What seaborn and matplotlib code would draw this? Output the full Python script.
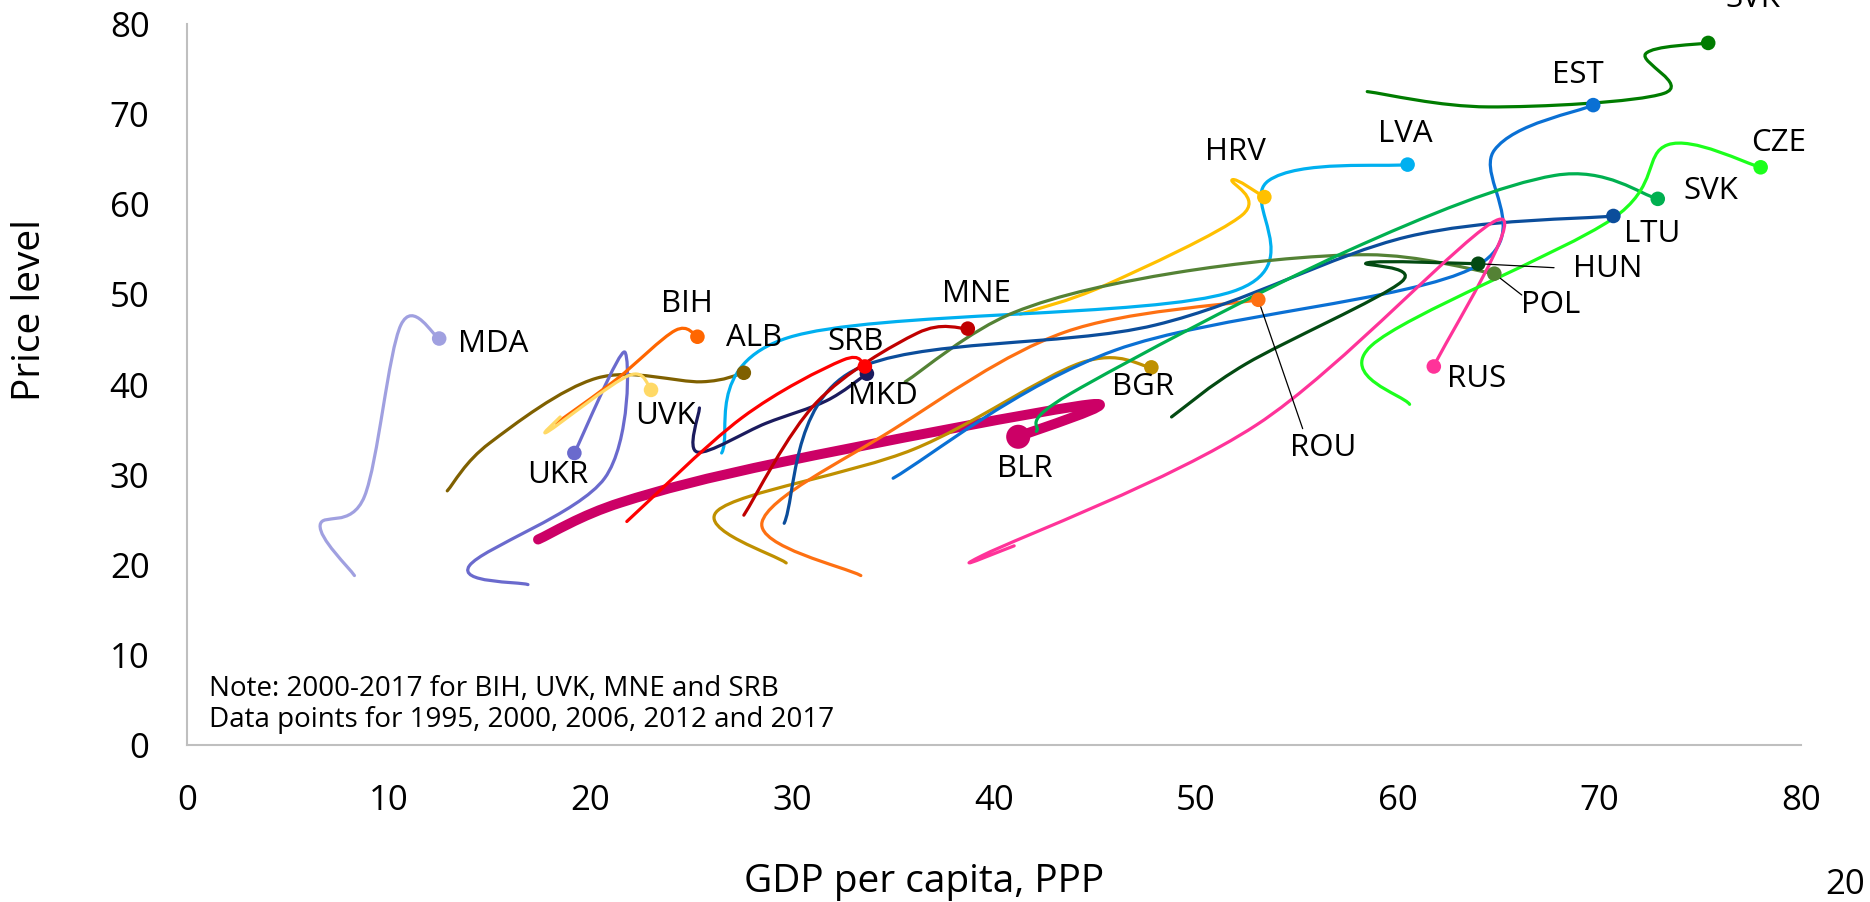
import matplotlib
matplotlib.use("Agg")
import matplotlib.pyplot as plt
from matplotlib.path import Path
from matplotlib.patches import PathPatch
import numpy as np
import pandas as pd
import seaborn as sns

# GDP per capita (PPP) and price level; points for 1995, 2000, 2006, 2012, 2017
# (BIH, UVK, MNE, SRB start in 2000)
MDA_GDP = [8.3, 6.6, 8.8, 10.6, 12.5]
MDA_PRICE = [18.8, 24.4, 27.6, 46.6, 45.1]
UKR_GDP = [16.9, 14.0, 20.7, 21.7, 19.2]
UKR_PRICE = [17.8, 19.9, 29.6, 43.6, 32.4]
BIH_GDP = [18.3, 21.3, 24.2, 25.3]
BIH_PRICE = [35.7, 40.6, 46.0, 45.3]
UVK_GDP = [18.5, 17.9, 21.9, 23.0]
UVK_PRICE = [36.4, 34.8, 41.0, 39.4]
ALB_GDP = [12.9, 15.0, 20.3, 25.5, 27.6]
ALB_PRICE = [28.2, 33.5, 40.7, 40.3, 41.3]
MKD_GDP = [25.4, 25.3, 28.7, 31.7, 33.7]
MKD_PRICE = [37.4, 32.5, 35.7, 38.2, 41.2]
SRB_GDP = [21.8, 27.5, 32.5, 33.6]
SRB_PRICE = [24.8, 36.3, 42.7, 42.0]
MNE_GDP = [27.6, 31.2, 36.2, 38.7]
MNE_PRICE = [25.5, 38.0, 45.7, 46.2]
LVA_GDP = [26.5, 29.8, 51.8, 53.6, 60.5]
LVA_PRICE = [32.4, 45.2, 50.3, 62.6, 64.4]
HRV_GDP = [41.3, 45.5, 52.3, 51.8, 53.4]
HRV_PRICE = [47.8, 51.0, 58.8, 62.7, 60.8]
BLR_GDP = [17.4, 21.5, 29.5, 44.8, 41.2]
BLR_PRICE = [22.8, 26.9, 31.4, 37.8, 34.2]
BGR_GDP = [29.7, 26.3, 36.0, 44.3, 47.8]
BGR_PRICE = [20.2, 26.0, 32.8, 42.4, 41.9]
ROU_GDP = [33.4, 28.5, 35.0, 43.5, 53.1]
ROU_PRICE = [18.8, 24.7, 35.0, 45.8, 49.4]
LTU_GDP = [29.6, 33.0, 48.0, 60.5, 70.7]
LTU_PRICE = [24.6, 41.5, 46.6, 56.4, 58.7]
EST_GDP = [35.0, 46.0, 63.8, 64.8, 69.7]
EST_PRICE = [29.6, 43.8, 53.0, 66.0, 71.0]
HUN_GDP = [48.8, 52.5, 60.2, 58.5, 64.0]
HUN_PRICE = [36.4, 42.3, 51.4, 53.5, 53.4]
POL_GDP = [35.6, 41.0, 49.0, 58.5, 64.8]
POL_PRICE = [40.3, 48.0, 52.4, 54.4, 52.3]
RUS_GDP = [41.0, 39.4, 53.0, 65.0, 61.8]
RUS_PRICE = [22.1, 21.0, 35.5, 58.3, 42.0]
CZE_GDP = [60.6, 58.7, 70.6, 73.4, 78.0]
CZE_PRICE = [37.8, 44.3, 58.3, 66.6, 64.1]
SVK_GDP = [42.1, 43.8, 57.5, 67.8, 72.9]
SVK_PRICE = [34.8, 39.0, 54.8, 63.2, 60.6]
SVK_TOP_GDP = [58.5, 64.5, 73.2, 72.3, 75.4]
SVK_TOP_PRICE = [72.5, 70.8, 72.3, 76.7, 77.9]

# key, label, gdp, price, colour
SERIES = [
    ("BLR", "BLR", BLR_GDP, BLR_PRICE, "#cc0066"),
    ("MDA", "MDA", MDA_GDP, MDA_PRICE, "#a0a0e0"),
    ("ALB", "ALB", ALB_GDP, ALB_PRICE, "#7f6000"),
    ("UKR", "UKR", UKR_GDP, UKR_PRICE, "#6a6acd"),
    ("BIH", "BIH", BIH_GDP, BIH_PRICE, "#ff6600"),
    ("UVK", "UVK", UVK_GDP, UVK_PRICE, "#ffd966"),
    ("HRV", "HRV", HRV_GDP, HRV_PRICE, "#ffc000"),
    ("LVA", "LVA", LVA_GDP, LVA_PRICE, "#00b0f0"),
    ("POL", "POL", POL_GDP, POL_PRICE, "#548235"),
    ("MKD", "MKD", MKD_GDP, MKD_PRICE, "#1b1b5e"),
    ("BGR", "BGR", BGR_GDP, BGR_PRICE, "#bf9000"),
    ("ROU", "ROU", ROU_GDP, ROU_PRICE, "#fe7012"),
    ("LTU", "LTU", LTU_GDP, LTU_PRICE, "#0b4d9b"),
    ("MNE", "MNE", MNE_GDP, MNE_PRICE, "#c00000"),
    ("SRB", "SRB", SRB_GDP, SRB_PRICE, "#ff0000"),
    ("EST", "EST", EST_GDP, EST_PRICE, "#0a70d4"),
    ("SVK", "SVK", SVK_GDP, SVK_PRICE, "#00b050"),
    ("HUN", "HUN", HUN_GDP, HUN_PRICE, "#034a12"),
    ("RUS", "RUS", RUS_GDP, RUS_PRICE, "#ff3399"),
    ("CZE", "CZE", CZE_GDP, CZE_PRICE, "#1cff1c"),
    ("SVK_TOP", "SVK", SVK_TOP_GDP, SVK_TOP_PRICE, "#007c00"),
]

# label centre positions (data units)
LABEL_POS = {
    "MDA": (15.2, 44.5), "BIH": (24.8, 48.9), "ALB": (28.1, 45.2),
    "UVK": (23.7, 36.5), "UKR": (18.4, 30.0), "SRB": (33.15, 44.7),
    "MKD": (34.5, 38.75), "MNE": (39.15, 50.0), "BGR": (47.4, 39.7),
    "BLR": (41.55, 30.6), "HRV": (51.95, 65.75), "LVA": (60.4, 67.8),
    "EST": (68.95, 74.3), "SVK_TOP": (77.6, 82.8), "CZE": (78.9, 66.85),
    "SVK": (75.55, 61.5), "LTU": (72.6, 56.75), "HUN": (70.4, 52.85),
    "POL": (67.6, 48.8), "RUS": (63.9, 40.6), "ROU": (56.3, 33.0),
}
# leader lines: key -> far end of the line (start is the 2017 point)
LEADERS = {"ROU": (55.3, 35.1), "HUN": (67.76, 52.96), "POL": (66.16, 49.93)}


def smooth_path(xs, ys):
    # Catmull-Rom style Bezier through the points (like Excel smoothed lines)
    pts = np.column_stack([xs, ys]).astype(float)
    n = len(pts)
    verts = [pts[0]]
    codes = [Path.MOVETO]
    for i in range(n - 1):
        p0 = pts[max(i - 1, 0)]
        p1 = pts[i]
        p2 = pts[i + 1]
        p3 = pts[min(i + 2, n - 1)]
        verts += [p1 + (p2 - p0) / 6, p2 - (p3 - p1) / 6, p2]
        codes += [Path.CURVE4] * 3
    return Path(verts, codes)


sns.set_theme(style="white")
plt.rcParams["font.family"] = ["Open Sans", "DejaVu Sans"]

fig = plt.figure(figsize=(18.7, 9.02), dpi=100)
ax = fig.add_axes([0.1, 0.17406, 0.8631, 0.79933])

for key, label, gdp, price, color in SERIES:
    lw = 7.2 if key == "BLR" else 2.3
    patch = PathPatch(smooth_path(gdp, price), fill=False, edgecolor=color,
                      lw=lw, capstyle="round", joinstyle="round", zorder=2)
    ax.add_patch(patch)

ends = pd.DataFrame({
    "key": [s[0] for s in SERIES],
    "gdp": [s[2][-1] for s in SERIES],
    "price": [s[3][-1] for s in SERIES],
    "big": [s[0] == "BLR" for s in SERIES],
})
palette = {s[0]: s[4] for s in SERIES}
sns.scatterplot(data=ends, x="gdp", y="price", hue="key", palette=palette,
                size="big", sizes={False: 110, True: 300}, linewidth=0,
                legend=False, ax=ax, zorder=4)

for key, (lx, ly) in LEADERS.items():
    row = ends[ends["key"] == key].iloc[0]
    ax.plot([row["gdp"], lx], [row["price"], ly], color="black", lw=0.9, zorder=3)

labels = {s[0]: s[1] for s in SERIES}
for key, (tx, ty) in LABEL_POS.items():
    ax.text(tx, ty, labels[key], ha="center", va="center", fontsize=22.5,
            color="black", clip_on=False, zorder=5)

ax.set_xlim(0, 80)
ax.set_ylim(0, 80)
ax.set_xticks(range(0, 81, 10))
ax.set_yticks(range(0, 81, 10))
ax.tick_params(axis="both", length=0, labelsize=25, colors="black")
ax.tick_params(axis="y", pad=27)
ax.tick_params(axis="x", pad=28)
for side in ["top", "right"]:
    ax.spines[side].set_visible(False)
for side in ["left", "bottom"]:
    ax.spines[side].set_color("#bfbfbf")
    ax.spines[side].set_linewidth(1.5)
ax.grid(False)

ax.set_xlabel("GDP per capita, PPP", fontsize=28, color="black")
ax.set_ylabel("Price level", fontsize=28, color="black")
ax.xaxis.label.set_va("center")
ax.yaxis.label.set_va("center")
ax.xaxis.set_label_coords(0.4566, -0.1907)
ax.yaxis.set_label_coords(-0.0973, 0.603)

ax.text(1.08, 6.2, "Note: 2000-2017 for BIH, UVK, MNE and SRB", fontsize=20,
        ha="left", va="center", color="black")
ax.text(1.08, 2.8, "Data points for 1995, 2000, 2006, 2012 and 2017", fontsize=20,
        ha="left", va="center", color="black")

fig.text(0.976, 0.0188, "20", fontsize=25, ha="left", va="center", color="black")

fig.savefig("out.png", dpi=100, facecolor="white")
